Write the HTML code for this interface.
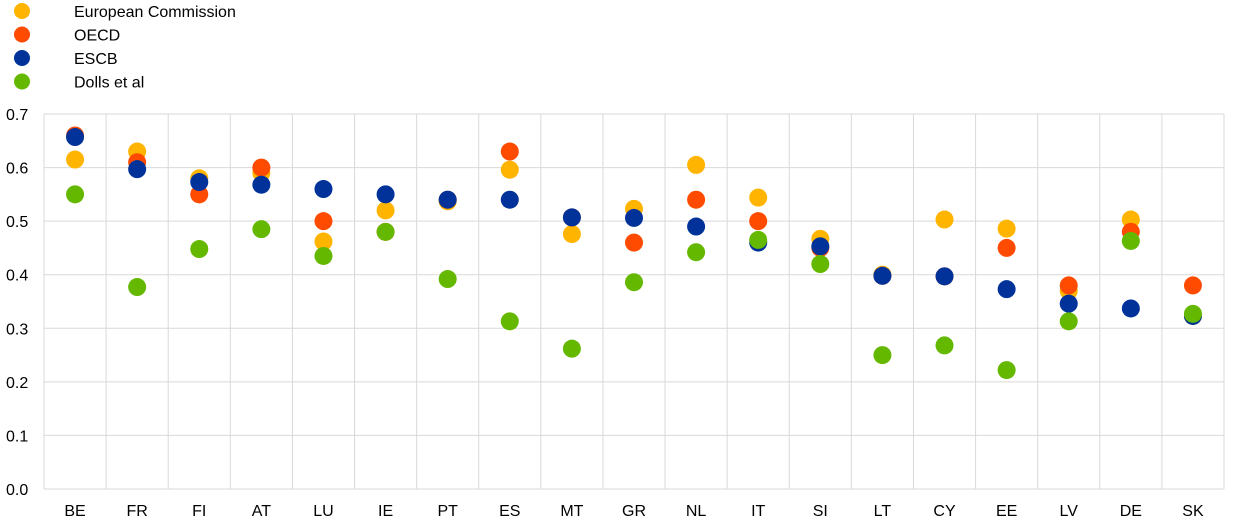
<!DOCTYPE html>
<html><head><meta charset="utf-8"><style>body{margin:0;background:#fff}svg{display:block}text{font-family:"Liberation Sans",Arial,sans-serif;font-size:16px;fill:#000}</style></head><body>
<svg id="s" width="1240" height="525" xmlns="http://www.w3.org/2000/svg"></svg>
<script>
const s=document.getElementById('s');let h='';
const X0=44,X1=1224,Y0=489,U=535.7;
const y=v=>Y0-v*U;
for(let i=0;i<=7;i++){const yy=y(i/10);h+=`<line x1="${X0}" x2="${X1}" y1="${yy}" y2="${yy}" stroke="#d9d9d9"/>`;h+=`<text x="6" y="${yy+6}">${(i/10).toFixed(1)}</text>`;}
const cats=["BE","FR","FI","AT","LU","IE","PT","ES","MT","GR","NL","IT","SI","LT","CY","EE","LV","DE","SK"];
const w=(X1-X0)/19;
for(let i=0;i<=19;i++){const xx=X0+i*w;h+=`<line x1="${xx}" x2="${xx}" y1="${y(0.7)}" y2="${Y0}" stroke="#d9d9d9"/>`;}
cats.forEach((c,i)=>h+=`<text x="${X0+(i+.5)*w}" y="516" text-anchor="middle">${c}</text>`);
const d={
Y:[.615,.63,.58,.59,.462,.52,.537,.596,.476,.523,.605,.544,.467,.40,.503,.486,.37,.503,.323],
O:[.66,.61,.55,.60,.50,.48,.54,.63,.507,.46,.54,.50,.45,.398,.397,.45,.38,.48,.38],
B:[.657,.597,.573,.568,.56,.55,.54,.54,.507,.506,.49,.46,.453,.398,.397,.373,.346,.337,.323],
G:[.55,.377,.448,.485,.435,.48,.392,.313,.262,.386,.442,.465,.42,.25,.268,.222,.313,.463,.327]};
const col={Y:"#FFB400",O:"#FF4B00",B:"#003299",G:"#65B800"};
for(const k of ["Y","O","B","G"])d[k].forEach((v,i)=>h+=`<circle cx="${X0+(i+.5)*w}" cy="${y(v)}" r="9" fill="${col[k]}"/>`);
[["European Commission","Y"],["OECD","O"],["ESCB","B"],["Dolls et al","G"]].forEach((l,i)=>{const yy=11+i*23.5;h+=`<circle cx="22" cy="${yy}" r="8" fill="${col[l[1]]}"/><text x="74" y="${yy+6}">${l[0]}</text>`;});
s.innerHTML=h;
</script>
</body></html>
